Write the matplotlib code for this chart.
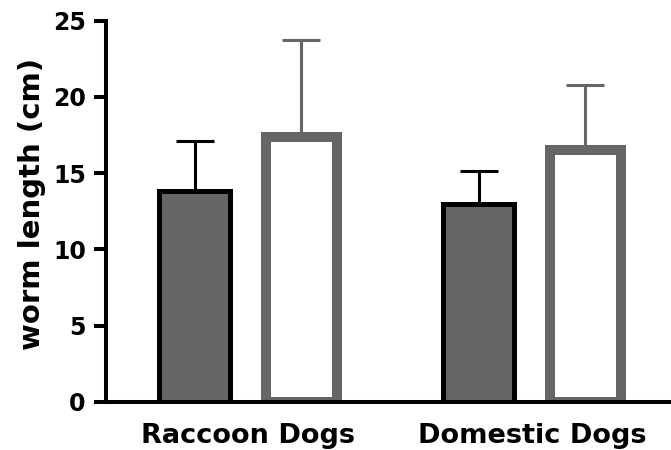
import matplotlib
matplotlib.use("Agg")
import matplotlib.pyplot as plt
import numpy as np

plt.rcParams['font.family'] = ['DejaVu Sans']

groups = ["Raccoon Dogs", "Domestic Dogs"]
dark_means = [13.8, 12.95]
dark_sd = [3.3, 2.2]
white_means = [17.35, 16.5]
white_sd = [6.4, 4.3]
yticks = [0, 5, 10, 15, 20, 25]

fig = plt.figure(figsize=(6.71, 4.5), dpi=100)
ax = fig.add_axes([106 / 671, 48.3 / 450, 1 - 106 / 671, (401.7 - 20.7) / 450])

x = np.arange(len(groups))
off = 0.188
w = 0.25
gray = "#666666"

ax.errorbar(x - off, dark_means, yerr=[np.zeros(2), dark_sd], fmt="none",
            ecolor="black", elinewidth=2.2, capsize=13.7, capthick=2.2, zorder=1)
ax.errorbar(x + off, white_means, yerr=[np.zeros(2), white_sd], fmt="none",
            ecolor=gray, elinewidth=2.2, capsize=13.7, capthick=2.2, zorder=1)
ax.bar(x - off, dark_means, width=w, color=gray, edgecolor="black",
       linewidth=3.6, zorder=2)
ax.bar(x + off, white_means, width=w, color="white", edgecolor=gray,
       linewidth=7.2, zorder=2)

ax.set_xlim(-0.5, 1.49)
ax.set_ylim(0, 25)
ax.set_yticks(yticks)
ax.set_yticklabels([str(t) for t in yticks], fontsize=17, fontweight="bold")
ax.set_xticks(x)
ax.set_xticklabels(groups, fontsize=19.5, fontweight="bold")
ax.tick_params(axis="x", length=0, pad=15)
ax.tick_params(axis="y", length=9, width=2.9, pad=5.5)
ax.set_ylabel("worm length (cm)", fontsize=21, fontweight="bold")
ax.yaxis.set_label_coords(-0.106, 0.52)

for s in ("top", "right"):
    ax.spines[s].set_visible(False)
for s in ("left", "bottom"):
    ax.spines[s].set_linewidth(2.9)

fig.savefig("out.png", dpi=100)
